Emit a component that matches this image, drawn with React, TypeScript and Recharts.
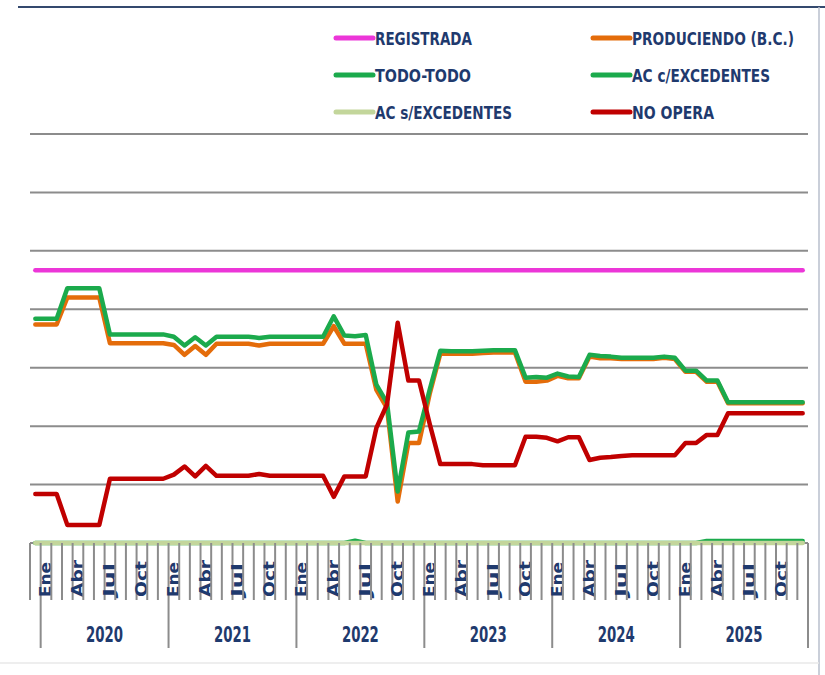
import React from 'react';
import { LineChart, Line, XAxis, YAxis, CartesianGrid } from 'recharts';

// ---------- data ----------
const mesesAbrev = ['Ene', 'Feb', 'Mar', 'Abr', 'May', 'Jun', 'Jul', 'Ago', 'Sep', 'Oct', 'Nov', 'Dic'];
const anios = ['2020', '2021', '2022', '2023', '2024', '2025'];
const mesPrevio = { mes: 'Dic', anio: '2019' };
const mesesVisibles = ['Ene', 'Abr', 'Jul', 'Oct'];
const yTicks = [0, 10, 20, 30, 40, 50, 60, 70];

const registrada = [
  46.7,
  46.7, 46.7, 46.7, 46.7, 46.7, 46.7, 46.7, 46.7, 46.7, 46.7, 46.7, 46.7,
  46.7, 46.7, 46.7, 46.7, 46.7, 46.7, 46.7, 46.7, 46.7, 46.7, 46.7, 46.7,
  46.7, 46.7, 46.7, 46.7, 46.7, 46.7, 46.7, 46.7, 46.7, 46.7, 46.7, 46.7,
  46.7, 46.7, 46.7, 46.7, 46.7, 46.7, 46.7, 46.7, 46.7, 46.7, 46.7, 46.7,
  46.7, 46.7, 46.7, 46.7, 46.7, 46.7, 46.7, 46.7, 46.7, 46.7, 46.7, 46.7,
  46.7, 46.7, 46.7, 46.7, 46.7, 46.7, 46.7, 46.7, 46.7, 46.7, 46.7, 46.7,
];

const produciendo = [
  37.4,
  37.4, 37.4, 42.0, 42.0, 42.0, 42.0, 34.2, 34.2, 34.2, 34.2, 34.2, 34.2,
  33.9, 32.2, 33.7, 32.2, 34.1, 34.1, 34.1, 34.1, 33.8, 34.1, 34.1, 34.1,
  34.1, 34.1, 34.1, 37.1, 34.1, 34.1, 34.1, 26.2, 23.1, 7.1, 17.1, 17.1,
  25.5, 32.4, 32.4, 32.4, 32.4, 32.5, 32.6, 32.6, 32.6, 27.6, 27.6, 27.8,
  28.6, 28.2, 28.2, 31.9, 31.6, 31.6, 31.5, 31.5, 31.5, 31.5, 31.7, 31.5,
  29.3, 29.3, 27.6, 27.6, 23.9, 23.9, 23.9, 23.9, 23.9, 23.9, 23.9, 23.9,
];

const todoTodo = [
  38.4,
  38.4, 38.4, 43.6, 43.6, 43.6, 43.6, 35.7, 35.7, 35.7, 35.7, 35.7, 35.7,
  35.3, 33.8, 35.2, 33.8, 35.3, 35.3, 35.3, 35.3, 35.1, 35.3, 35.3, 35.3,
  35.3, 35.3, 35.3, 38.8, 35.5, 35.4, 35.6, 27.1, 24.0, 8.8, 18.9, 19.1,
  26.2, 32.9, 32.8, 32.8, 32.8, 32.9, 33.0, 33.0, 33.0, 28.3, 28.4, 28.3,
  29.0, 28.5, 28.4, 32.2, 32.0, 31.9, 31.7, 31.7, 31.7, 31.7, 31.9, 31.7,
  29.5, 29.5, 27.8, 27.8, 24.1, 24.1, 24.1, 24.1, 24.1, 24.1, 24.1, 24.1,
];

const acConExcedentes = [
  0,
  0, 0, 0, 0, 0, 0, 0, 0, 0, 0, 0, 0,
  0, 0, 0, 0, 0, 0, 0, 0, 0, 0, 0, 0,
  0, 0, 0, 0, 0, 0.4, 0, 0, 0, 0, 0, 0,
  0, 0, 0, 0, 0, 0, 0, 0, 0, 0, 0, 0,
  0, 0, 0, 0, 0, 0, 0, 0, 0, 0, 0, 0,
  0, 0, 0.35, 0.35, 0.35, 0.35, 0.35, 0.35, 0.35, 0.35, 0.35, 0.35,
];

const acSinExcedentes = [
  0,
  0, 0, 0, 0, 0, 0, 0, 0, 0, 0, 0, 0,
  0, 0, 0, 0, 0, 0, 0, 0, 0, 0, 0, 0,
  0, 0, 0, 0, 0, 0, 0, 0, 0, 0, 0, 0,
  0, 0, 0, 0, 0, 0, 0, 0, 0, 0, 0, 0,
  0, 0, 0, 0, 0, 0, 0, 0, 0, 0, 0, 0,
  0, 0, 0, 0, 0, 0, 0, 0, 0, 0, 0, 0,
];

const noOpera = [
  8.4,
  8.4, 8.4, 3.1, 3.1, 3.1, 3.1, 11.0, 11.0, 11.0, 11.0, 11.0, 11.0,
  11.7, 13.1, 11.4, 13.2, 11.5, 11.5, 11.5, 11.5, 11.8, 11.5, 11.5, 11.5,
  11.5, 11.5, 11.5, 7.9, 11.4, 11.4, 11.4, 19.7, 23.7, 37.7, 27.8, 27.8,
  20.4, 13.5, 13.5, 13.5, 13.5, 13.3, 13.3, 13.3, 13.3, 18.2, 18.2, 18.0,
  17.4, 18.1, 18.1, 14.2, 14.6, 14.7, 14.9, 15.0, 15.0, 15.0, 15.0, 15.0,
  17.1, 17.1, 18.5, 18.5, 22.2, 22.2, 22.2, 22.2, 22.2, 22.2, 22.2, 22.2,
];

const series = [
  { key: 'registrada', name: 'REGISTRADA', color: '#EC36D8', values: registrada },
  { key: 'produciendo', name: 'PRODUCIENDO (B.C.)', color: '#E46C0A', values: produciendo },
  { key: 'todoTodo', name: 'TODO-TODO', color: '#1BAA4C', values: todoTodo },
  { key: 'acCon', name: 'AC c/EXCEDENTES', color: '#1BAA4C', values: acConExcedentes },
  { key: 'acSin', name: 'AC s/EXCEDENTES', color: '#C3D69B', values: acSinExcedentes },
  { key: 'noOpera', name: 'NO OPERA', color: '#C00000', values: noOpera },
];

// ---------- layout ----------
const W = 825;
const H = 675;
const MARGIN = { top: 134, right: 17, left: 30, bottom: 0 };
const X_AXIS_H = 132;
const PLOT_BOTTOM = H - MARGIN.bottom - X_AXIS_H;
const PLOT_W = W - MARGIN.left - MARGIN.right;
const NAVY = '#1F3A6E';
const AXIS_GRAY = '#8C8C8C';
const FONT = '"Liberation Sans Narrow", "DejaVu Sans Condensed", "Liberation Sans", Arial, sans-serif';

const categorias = [mesPrevio];
anios.forEach((a) => mesesAbrev.forEach((m) => categorias.push({ mes: m, anio: a })));

const data = categorias.map((c, i) => {
  const row: any = { cat: `${c.mes} ${c.anio}`, mes: c.mes, anio: c.anio };
  series.forEach((s) => {
    row[s.key] = s.values[i];
  });
  return row;
});

const monthLen: Record<string, number> = { Ene: 35, Abr: 37, Jul: 34, Oct: 36 };

const MonthTick = (props: any) => {
  const { x, index } = props;
  const n = data.length;
  const bw = PLOT_W / n;
  const d = data[index];
  if (!d) return null;
  const left = x - bw / 2;
  const yearStart = d.mes === 'Ene';
  const els: any[] = [];
  els.push(
    <line key="b" x1={left} x2={left} y1={PLOT_BOTTOM} y2={yearStart ? 648 : 600} stroke={AXIS_GRAY} strokeWidth={2} />
  );
  if (index === n - 1) {
    els.push(
      <line key="e" x1={left + bw} x2={left + bw} y1={PLOT_BOTTOM} y2={648} stroke={AXIS_GRAY} strokeWidth={2} />
    );
  }
  if (mesesVisibles.includes(d.mes)) {
    const xb = x + 5.5;
    const yb = 597;
    els.push(
      <text
        key="m"
        x={xb}
        y={yb}
        transform={`rotate(-90 ${xb} ${yb})`}
        fontFamily={FONT}
        fontSize={16}
        fontWeight="bold"
        fill={NAVY}
        textAnchor="start"
        textLength={monthLen[d.mes]}
        lengthAdjust="spacingAndGlyphs"
      >
        {d.mes}
      </text>
    );
  }
  if (d.mes === 'Jul') {
    els.push(
      <text
        key="y"
        x={left}
        y={642}
        fontFamily={FONT}
        fontSize={22}
        fontWeight="bold"
        fill={NAVY}
        textAnchor="middle"
        textLength={37}
        lengthAdjust="spacingAndGlyphs"
      >
        {d.anio}
      </text>
    );
  }
  return <g>{els}</g>;
};

const legendWidths: Record<string, number> = {
  'REGISTRADA': 97,
  'PRODUCIENDO (B.C.)': 162,
  'TODO-TODO': 96,
  'AC c/EXCEDENTES': 138,
  'AC s/EXCEDENTES': 137,
  'NO OPERA': 82,
};

const LegendBox = () => {
  const colX = [336, 593];
  const rowY = [38, 75, 112];
  return (
    <svg width={W} height={130} style={{ position: 'absolute', left: 0, top: 0 }}>
      {series.map((s, i) => {
        const cx = colX[i % 2];
        const cy = rowY[Math.floor(i / 2)];
        return (
          <g key={s.key}>
            <line x1={cx} x2={cx + 37} y1={cy} y2={cy} stroke={s.color} strokeWidth={5} strokeLinecap="round" />
            <text
              x={cx + 39}
              y={cy + 7}
              fontFamily={FONT}
              fontSize={17.5}
              fontWeight="bold"
              fill={NAVY}
              textLength={legendWidths[s.name]}
              lengthAdjust="spacingAndGlyphs"
            >
              {s.name}
            </text>
          </g>
        );
      })}
    </svg>
  );
};

export default function App() {
  return (
    <div style={{ position: 'absolute', left: 0, top: 0, width: W, height: H, background: '#fff', overflow: 'hidden' }}>
      <LineChart width={W} height={H} data={data} margin={MARGIN}>
        <CartesianGrid vertical={false} stroke={AXIS_GRAY} strokeWidth={2} />
        <XAxis
          dataKey="cat"
          scale="band"
          interval={0}
          height={X_AXIS_H}
          axisLine={false}
          tickLine={false}
          tick={(p: any) => <MonthTick {...p} />}
        />
        <YAxis hide type="number" domain={[0, 70]} ticks={yTicks} />
        {series.map((s) => (
          <Line
            key={s.key}
            type="linear"
            dataKey={s.key}
            name={s.name}
            stroke={s.color}
            strokeWidth={4.5}
            strokeLinejoin="round"
            strokeLinecap="round"
            dot={false}
            activeDot={false}
            isAnimationActive={false}
          />
        ))}
      </LineChart>
      <LegendBox />
      <svg width={W} height={H} style={{ position: 'absolute', left: 0, top: 0, pointerEvents: 'none' }}>
        <line x1={18} x2={W} y1={7} y2={7} stroke="#34496E" strokeWidth={2} />
        <line x1={819} x2={819} y1={7} y2={H} stroke="#B8BFCC" strokeWidth={1.5} />
        <line x1={0} x2={819} y1={663} y2={663} stroke="#E8E8E8" strokeWidth={1.5} />
      </svg>
    </div>
  );
}
